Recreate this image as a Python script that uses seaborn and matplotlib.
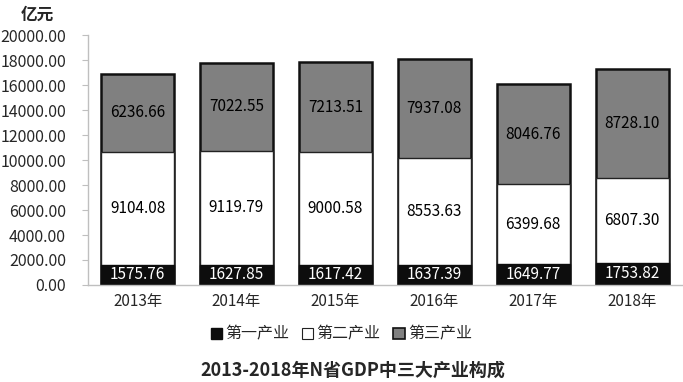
import matplotlib.pyplot as plt
import seaborn as sns
import pandas as pd
from matplotlib.patches import Patch

years = ["2013年", "2014年", "2015年", "2016年", "2017年", "2018年"]
primary = [1575.76, 1627.85, 1617.42, 1637.39, 1649.77, 1753.82]
secondary = [9104.08, 9119.79, 9000.58, 8553.63, 6399.68, 6807.30]
tertiary = [6236.66, 7022.55, 7213.51, 7937.08, 8046.76, 8728.10]
series_names = ["第一产业", "第二产业", "第三产业"]

sns.set_style("white")
plt.rcParams['font.family'] = ['Noto Sans CJK SC', 'DejaVu Sans']

df = pd.DataFrame({"year": years, "p": primary, "s": secondary, "t": tertiary})
df["ps"] = df["p"] + df["s"]
df["total"] = df["ps"] + df["t"]

fig = plt.figure(figsize=(6.83, 3.82), dpi=100)
ax = fig.add_axes([0.129, 0.254, 0.869, 0.654])

# back to front: total (grey), first+second (white), first (black)
sns.barplot(data=df, x="year", y="total", color="#808080", edgecolor="#111111",
            linewidth=1.8, width=0.74, saturation=1, ax=ax)
sns.barplot(data=df, x="year", y="ps", color="white", edgecolor="#222222",
            linewidth=1.0, width=0.74, saturation=1, ax=ax)
sns.barplot(data=df, x="year", y="p", color="#0d0d0d", edgecolor="#0d0d0d",
            linewidth=1.0, width=0.74, saturation=1, ax=ax)

for i, row in df.iterrows():
    ax.text(i, row["p"] / 2 + 50, f"{row['p']:.2f}", ha="center", va="center",
            color="white", fontsize=11)
    ax.text(i, row["p"] + row["s"] / 2, f"{row['s']:.2f}", ha="center", va="center",
            color="black", fontsize=11)
    ax.text(i, row["ps"] + row["t"] / 2, f"{row['t']:.2f}", ha="center", va="center",
            color="black", fontsize=11)

ax.set_ylim(0, 20000)
ax.set_xlim(-0.5, 5.5)
ax.set_yticks(range(0, 20001, 2000))
ax.set_yticklabels([f"{v:.2f}" for v in range(0, 20001, 2000)], fontsize=11.5)
ax.set_xticks(range(6))
ax.set_xticklabels(years, fontsize=11)
ax.set_xticks([i + 0.5 for i in range(-1, 6)], minor=True)
ax.tick_params(axis="x", which="major", length=0, pad=6)
ax.tick_params(axis="x", which="minor", length=4, color="#bfbfbf", direction="out")
ax.tick_params(axis="y", length=4, color="#bfbfbf", pad=12, left=True)
ax.set_xlabel("")
ax.set_ylabel("")
for side in ["top", "right"]:
    ax.spines[side].set_visible(False)
for side in ["left", "bottom"]:
    ax.spines[side].set_color("#bfbfbf")
    ax.spines[side].set_linewidth(1.0)

fig.text(0.03, 0.962, "亿元", fontsize=12, fontweight="bold", ha="left", va="center")

handles = [Patch(facecolor="#0d0d0d", edgecolor="#0d0d0d"),
           Patch(facecolor="white", edgecolor="#222222", linewidth=0.8),
           Patch(facecolor="#808080", edgecolor="#111111", linewidth=1.2)]
fig.legend(handles, series_names, loc="center", bbox_to_anchor=(0.5, 0.125), ncol=3,
           frameon=False, fontsize=11.5, handlelength=0.7, handleheight=0.7,
           handletextpad=0.2, columnspacing=0.8)

fig.text(0.516, 0.03, "2013-2018年N省GDP中三大产业构成", fontsize=13, fontweight="bold",
         ha="center", va="center")

fig.savefig("out.png", dpi=100)
